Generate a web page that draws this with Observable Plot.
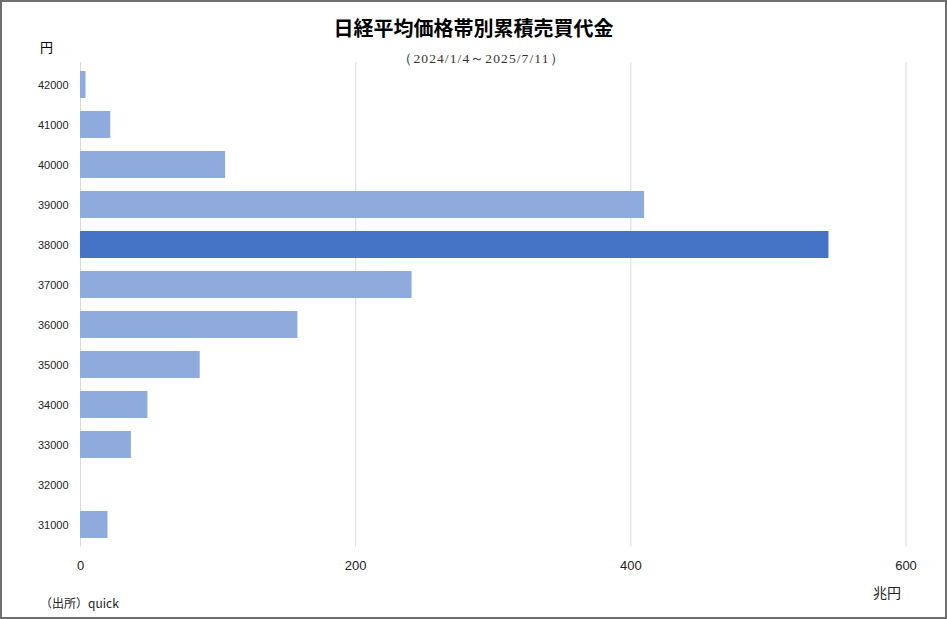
<!DOCTYPE html>
<html>
<head>
<meta charset="utf-8">
<script src="https://cdn.jsdelivr.net/npm/d3@7"></script>
<script src="https://cdn.jsdelivr.net/npm/@observablehq/plot@0.6"></script>
<style>
  html, body { margin: 0; padding: 0; background: #fff; }
  #wrap { position: relative; width: 947px; height: 619px; overflow: hidden; background: #fff; }
  #chart { position: absolute; left: 0; top: 0; }
  .lbl { position: absolute; white-space: nowrap; color: #000; }
  #title { left: 0; width: 947px; top: 14px; text-align: center; font: bold 20px "Noto Sans CJK JP", sans-serif; line-height: 28px; }
  #subtitle { left: 8px; width: 947px; top: 49px; text-align: center; font: 13.5px "Liberation Serif", "DejaVu Serif", serif; letter-spacing: 1.1px; line-height: 20px; color: #333; }
  #yunit { left: 40px; top: 38px; font: 13px "Noto Sans CJK JP", sans-serif; line-height: 18px; }
  #xunit { left: 873px; top: 582px; font: 14px "Noto Sans CJK JP", sans-serif; line-height: 20px; color: #222; }
  #source { left: 40px; top: 594px; font: 12px "Noto Sans CJK JP", sans-serif; line-height: 18px; color: #222; }
  #border { position: absolute; left: 0; top: 0; width: 943px; height: 615px; border: 2px solid #6e6e6e; pointer-events: none; }
</style>
</head>
<body>
<div id="wrap">
  <div id="chart"></div>
  <div class="lbl" id="title">日経平均価格帯別累積売買代金</div>
  <div class="lbl" id="subtitle">（2024/1/4～2025/7/11）</div>
  <div class="lbl" id="yunit">円</div>
  <div class="lbl" id="xunit">兆円</div>
  <div class="lbl" id="source">（出所）quick</div>
  <div id="border"></div>
</div>
<script>
// Price bands (円) and cumulative trading value (兆円)
const prices = [42000, 41000, 40000, 39000, 38000, 37000, 36000, 35000, 34000, 33000, 32000, 31000];
const values = [4, 22, 105.5, 410, 544, 241, 158, 87, 49, 37, 0, 20];
const highlight = [38000];
const xTicks = [0, 200, 400, 600];

const data = prices.map((p, i) => ({price: p, value: values[i], hi: highlight.includes(p)}));

const chart = Plot.plot({
  width: 947,
  height: 619,
  marginLeft: 80,
  marginRight: 41.5,
  marginTop: 62,
  marginBottom: 72.5,
  style: {fontFamily: "'Liberation Sans', 'DejaVu Sans', sans-serif", background: "transparent", color: "#333"},
  x: {domain: [0, 600], ticks: xTicks, label: null},
  y: {domain: prices.map(String), label: null, paddingInner: 0.33, paddingOuter: 0.17},
  marks: [
    Plot.gridX(xTicks, {stroke: "#d9d9d9", strokeOpacity: 1, strokeWidth: 1}),
    Plot.barX(data, {
      x: "value",
      y: d => String(d.price),
      fill: d => d.hi ? "#4472c4" : "#8faadc"
    }),
    Plot.axisX(xTicks, {tickSize: 0, tickPadding: 14, fontSize: 13, fill: "#222", label: null}),
    Plot.axisY({tickSize: 0, tickPadding: 12, fontSize: 11, fill: "#222", label: null})
  ]
});
document.getElementById("chart").appendChild(chart);
</script>
</body>
</html>
